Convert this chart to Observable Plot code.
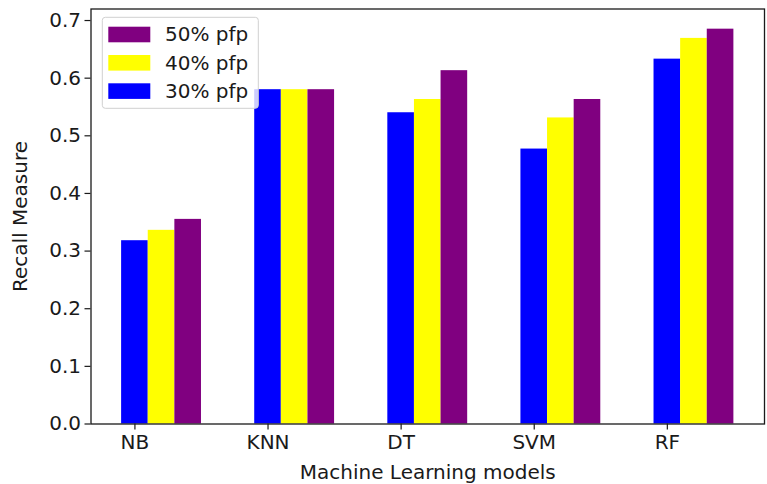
<!DOCTYPE html>
<html>
<head>
<meta charset="utf-8">
<script src="https://cdn.jsdelivr.net/npm/d3@7"></script>
<script src="https://cdn.jsdelivr.net/npm/@observablehq/plot@0.6"></script>
<style>
  body { margin: 0; background: #fff; }
  #chart { width: 767px; height: 484px; }
</style>
</head>
<body>
<div id="chart"></div>
<script>
// Recall of each model for three proportions of false positives (pfp)
const models = ["NB", "KNN", "DT", "SVM", "RF"];
const seriesNames = ["30% pfp", "40% pfp", "50% pfp"];
const seriesColors = ["#0000ff", "#ffff00", "#800080"];
const pfp30 = [0.318, 0.580, 0.540, 0.477, 0.633];
const pfp40 = [0.336, 0.580, 0.563, 0.531, 0.669];
const pfp50 = [0.355, 0.580, 0.613, 0.563, 0.685];
const yTicks = [0.0, 0.1, 0.2, 0.3, 0.4, 0.5, 0.6, 0.7];

// Grouped bars: each series is shifted by one bar width, the first one centred on the tick
const barWidth = 0.2;
const rows = [pfp30, pfp40, pfp50].flatMap((vals, s) =>
  vals.map((v, i) => ({
    model: models[i],
    series: seriesNames[s],
    x1: i + (s - 0.5) * barWidth,
    x2: i + (s + 0.5) * barWidth,
    value: v
  }))
);

const font = "'DejaVu Sans', sans-serif";
const fontSize = 20;
const ink = "#1a1a1a";
const margin = { left: 90.5, right: 3, top: 8.5, bottom: 60.5 };

const plot = Plot.plot({
  width: 767,
  height: 484,
  marginLeft: margin.left,
  marginRight: margin.right,
  marginTop: margin.top,
  marginBottom: margin.bottom,
  style: { fontFamily: font, fontSize: `${fontSize}px`, color: ink, background: "#fff", overflow: "visible" },
  x: { domain: [-0.33, 4.73] },
  y: { domain: [0, 0.72] },
  color: { domain: seriesNames, range: seriesColors },
  marks: [
    Plot.rect(rows, { x1: "x1", x2: "x2", y1: 0, y2: "value", fill: "series" }),
    Plot.frame({ stroke: ink, strokeWidth: 1.3 }),
    Plot.axisY({ ticks: yTicks, tickFormat: d3.format(".1f"), tickSize: 6, tickPadding: 4, label: null, strokeWidth: 1.2 }),
    Plot.axisX({ ticks: models.map((_, i) => i), tickFormat: (i) => models[i], tickSize: 6, tickPadding: 5, label: null, strokeWidth: 1.2 }),
    Plot.text(["Machine Learning models"], { text: (d) => d, frameAnchor: "bottom", textAnchor: "middle", dy: 40.5, lineAnchor: "top", fill: ink }),
    Plot.text(["Recall Measure"], { text: (d) => d, frameAnchor: "left", textAnchor: "middle", rotate: -90, dx: -78, lineAnchor: "top", fill: ink })
  ]
});

// Legend box in the upper-left corner of the plotting area, newest series first
const svg = d3.select(plot);
const legend = svg.append("g")
  .attr("transform", `translate(${margin.left + 11.8},${margin.top + 8.8})`)
  .attr("font-family", font)
  .attr("font-size", fontSize)
  .attr("text-anchor", "start");
legend.append("rect")
  .attr("width", 156).attr("height", 91)
  .attr("rx", 3).attr("ry", 3)
  .attr("fill", "#fff").attr("fill-opacity", 0.8)
  .attr("stroke", "#d0d0d0").attr("stroke-width", 1);
const order = seriesNames.map((name, s) => ({ name, color: seriesColors[s] })).reverse();
order.forEach((d, k) => {
  const cy = 17.2 + k * 28.3;
  legend.append("rect")
    .attr("x", 6).attr("y", cy - 7.8)
    .attr("width", 42).attr("height", 15.6)
    .attr("fill", d.color);
  legend.append("text")
    .attr("x", 62.7).attr("y", cy)
    .attr("dy", "0.35em")
    .attr("fill", ink)
    .text(d.name);
});

document.getElementById("chart").appendChild(plot);
</script>
</body>
</html>
